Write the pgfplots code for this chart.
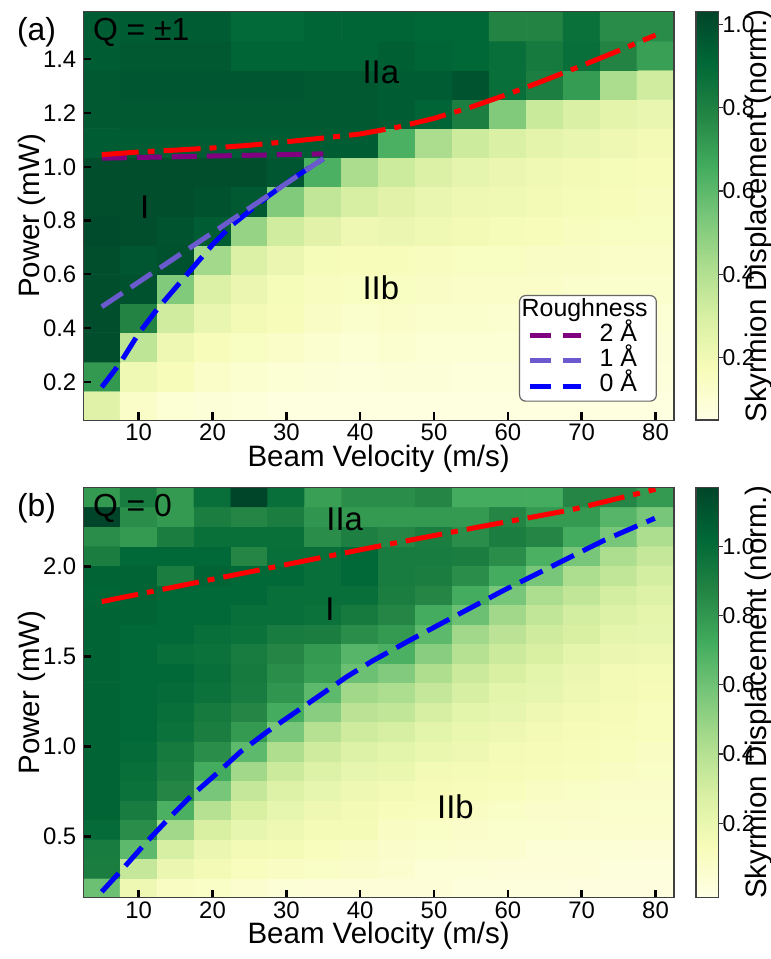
\documentclass[border=0pt]{standalone}
\usepackage{pgfplots}
\pgfplotsset{compat=1.18}
\usepackage{fontspec}
\setmainfont{Liberation Sans}

\definecolor{rline}{RGB}{255,0,0}
\definecolor{bline}{RGB}{0,0,255}
\definecolor{sline}{RGB}{106,90,205}
\definecolor{pline}{RGB}{128,0,128}

\tikzset{
  region/.style={font=\fontsize{16.5}{18}\selectfont},
  dashdot/.style={rline, line width=2.5bp, dash pattern=on 18.5bp off 4.5bp on 3.5bp off 4.5bp},
  dashed0/.style={line width=2.5bp, dash pattern=on 12.5bp off 5bp},
}

\pgfplotsset{
  colormap={ylgn}{rgb255=(255,255,229) rgb255=(247,252,185) rgb255=(217,240,163)
    rgb255=(173,221,142) rgb255=(120,198,121) rgb255=(65,171,93) rgb255=(35,132,67)
    rgb255=(0,104,55) rgb255=(0,69,41)},
  rleg/.style={legend image code/.code={\path[draw=none] (0bp,0bp) -- (34.5bp,0bp);
    \draw[##1, dash pattern=on 10.5bp off 5.8bp] (0bp,0bp) -- (25.5bp,0bp);}},
  heat/.style={
    scale only axis, width=295.35bp, axis on top,
    anchor=north west,
    xmin=2.5, xmax=82.5,
    xtick={10,20,30,40,50,60,70,80},
    tick align=inside, xtick pos=bottom, ytick pos=left,
    major tick length=4bp,
    major tick style={black, line width=1.2bp},
    axis line style={black!75, line width=0.7bp},
    tick label style={font=\fontsize{12}{14}\selectfont},
    /pgf/number format/assume math mode=true,
    yticklabel style={/pgf/number format/fixed, /pgf/number format/fixed zerofill,
      /pgf/number format/precision=1},
    xticklabel style={anchor=base, yshift=-10.3bp},
    label style={font=\fontsize{14.8}{17}\selectfont},
    xlabel={Beam Velocity (m/s)},
    ylabel={Power (mW)},
    xlabel style={at={(axis description cs:0.5,0)}, anchor=base, yshift=-23bp},
    ylabel style={at={(axis description cs:0,0.5)}, anchor=base, yshift=22bp},
    colormap name=ylgn,
    colorbar,
    colorbar style={
      scale only axis, width=11.35bp,
      at={(parent axis.north east)}, anchor=north west, xshift=2.5bp,
      ytick={0.2,0.4,0.6,0.8,1.0},
      ytick pos=right, tick align=outside,
      major tick length=2bp,
      major tick style={black!80, line width=0.6bp},
      axis line style={black!75, line width=0.7bp},
      /pgf/number format/assume math mode=true,
      yticklabel style={font=\fontsize{11.5}{13}\selectfont, xshift=-3.5bp,
        /pgf/number format/fixed, /pgf/number format/fixed zerofill,
        /pgf/number format/precision=1},
      ylabel={Skyrmion Displacement (norm.)},
      ylabel style={font=\fontsize{14.8}{17}\selectfont,
        at={(axis description cs:1,0.5)}, anchor=base, yshift=-24bp},
    },
  },
}

\begin{document}
\begin{tikzpicture}
\path[use as bounding box] (0,0) rectangle (385.5bp,-479.5bp);

% (a) Q = +-1
\begin{axis}[heat, at={(41.65bp,-5.85bp)}, height=204.25bp,
  ymin=0.057, ymax=1.577,
  ytick={0.2,0.4,0.6,0.8,1.0,1.2,1.4},
  point meta min=0.05, point meta max=1.03,
  legend cell align=left,
  legend style={at={(0.7376,0.3065)}, anchor=north west, draw=black!60,
    line width=0.6bp, fill=white, rounded corners=3bp,
    font=\fontsize{12.5}{14}\selectfont, inner xsep=4bp, inner ysep=2.5bp,
    row sep=2.5bp, nodes={inner sep=0.3bp, text height=0.75em, text depth=0.2em}},
]
\addplot[matrix plot*, mesh/cols=16, point meta=explicit, forget plot] coordinates {
(5,.111)[.27] (10,.111)[.13] (15,.111)[.10] (20,.111)[.09] (25,.111)[.08] (30,.111)[.07] (35,.111)[.07] (40,.111)[.07] (45,.111)[.07] (50,.111)[.07] (55,.111)[.07] (60,.111)[.07] (65,.111)[.07] (70,.111)[.07] (75,.111)[.07] (80,.111)[.07]
(5,.220)[.72] (10,.220)[.20] (15,.220)[.17] (20,.220)[.13] (25,.220)[.11] (30,.220)[.10] (35,.220)[.09] (40,.220)[.08] (45,.220)[.09] (50,.220)[.09] (55,.220)[.08] (60,.220)[.08] (65,.220)[.08] (70,.220)[.08] (75,.220)[.08] (80,.220)[.08]
(5,.328)[1.00] (10,.328)[.37] (15,.328)[.21] (20,.328)[.17] (25,.328)[.15] (30,.328)[.13] (35,.328)[.11] (40,.328)[.10] (45,.328)[.11] (50,.328)[.10] (55,.328)[.10] (60,.328)[.10] (65,.328)[.09] (70,.328)[.09] (75,.328)[.09] (80,.328)[.09]
(5,.437)[1.00] (10,.437)[.79] (15,.437)[.32] (20,.437)[.23] (25,.437)[.19] (30,.437)[.17] (35,.437)[.14] (40,.437)[.12] (45,.437)[.13] (50,.437)[.12] (55,.437)[.12] (60,.437)[.11] (65,.437)[.11] (70,.437)[.11] (75,.437)[.10] (80,.437)[.10]
(5,.546)[1.00] (10,.546)[.99] (15,.546)[.52] (20,.546)[.28] (25,.546)[.22] (30,.546)[.18] (35,.546)[.16] (40,.546)[.15] (45,.546)[.15] (50,.546)[.14] (55,.546)[.13] (60,.546)[.13] (65,.546)[.13] (70,.546)[.12] (75,.546)[.12] (80,.546)[.12]
(5,.654)[1.00] (10,.654)[.97] (15,.654)[.99] (20,.654)[.44] (25,.654)[.28] (30,.654)[.22] (35,.654)[.18] (40,.654)[.17] (45,.654)[.17] (50,.654)[.16] (55,.654)[.15] (60,.654)[.15] (65,.654)[.14] (70,.654)[.14] (75,.654)[.13] (80,.654)[.13]
(5,.763)[1.01] (10,.763)[1.00] (15,.763)[.98] (20,.763)[.95] (25,.763)[.47] (30,.763)[.32] (35,.763)[.26] (40,.763)[.21] (45,.763)[.22] (50,.763)[.20] (55,.763)[.19] (60,.763)[.18] (65,.763)[.17] (70,.763)[.16] (75,.763)[.15] (80,.763)[.15]
(5,.871)[1.00] (10,.871)[1.00] (15,.871)[1.00] (20,.871)[.99] (25,.871)[.96] (30,.871)[.52] (35,.871)[.36] (40,.871)[.30] (45,.871)[.26] (50,.871)[.23] (55,.871)[.21] (60,.871)[.20] (65,.871)[.19] (70,.871)[.18] (75,.871)[.17] (80,.871)[.16]
(5,.980)[1.00] (10,.980)[1.00] (15,.980)[1.00] (20,.980)[1.00] (25,.980)[1.00] (30,.980)[.97] (35,.980)[.64] (40,.980)[.42] (45,.980)[.33] (50,.980)[.28] (55,.980)[.24] (60,.980)[.22] (65,.980)[.20] (70,.980)[.19] (75,.980)[.18] (80,.980)[.17]
(5,1.089)[.95] (10,1.089)[.95] (15,1.089)[.95] (20,1.089)[.95] (25,1.089)[.95] (30,1.089)[.95] (35,1.089)[.95] (40,1.089)[.95] (45,1.089)[.64] (50,1.089)[.42] (55,1.089)[.33] (60,1.089)[.29] (65,1.089)[.25] (70,1.089)[.23] (75,1.089)[.21] (80,1.089)[.19]
(5,1.197)[.96] (10,1.197)[.96] (15,1.197)[.96] (20,1.197)[.96] (25,1.197)[.96] (30,1.197)[.96] (35,1.197)[.96] (40,1.197)[.96] (45,1.197)[.95] (50,1.197)[.92] (55,1.197)[.81] (60,1.197)[.52] (65,1.197)[.34] (70,1.197)[.29] (75,1.197)[.25] (80,1.197)[.23]
(5,1.306)[.96] (10,1.306)[.97] (15,1.306)[.97] (20,1.306)[.97] (25,1.306)[.97] (30,1.306)[.97] (35,1.306)[.96] (40,1.306)[.96] (45,1.306)[.95] (50,1.306)[.95] (55,1.306)[.98] (60,1.306)[.88] (65,1.306)[.81] (70,1.306)[.71] (75,1.306)[.42] (80,1.306)[.32]
(5,1.414)[.95] (10,1.414)[.96] (15,1.414)[.96] (20,1.414)[.96] (25,1.414)[.92] (30,1.414)[.92] (35,1.414)[.92] (40,1.414)[.92] (45,1.414)[.94] (50,1.414)[.92] (55,1.414)[.91] (60,1.414)[.88] (65,1.414)[.83] (70,1.414)[.88] (75,1.414)[.79] (80,1.414)[.70]
(5,1.523)[.95] (10,1.523)[.95] (15,1.523)[.95] (20,1.523)[.95] (25,1.523)[.90] (30,1.523)[.90] (35,1.523)[.92] (40,1.523)[.92] (45,1.523)[.92] (50,1.523)[.91] (55,1.523)[.91] (60,1.523)[.79] (65,1.523)[.79] (70,1.523)[.87] (75,1.523)[.76] (80,1.523)[.76]
};
% boundaries
\addplot[bline, dashed0, forget plot] coordinates {
  (5,0.18) (7.5,0.27) (10,0.38) (12.5,0.47) (15,0.55) (17.5,0.63) (20,0.71)
  (22.5,0.78) (25,0.835) (27.5,0.89) (30,0.94) (32.5,0.985) (35,1.03)};
\addplot[sline, dashed0, forget plot] coordinates {(5,0.479) (35,1.03)};
\addplot[pline, dashed0, forget plot] coordinates {(5,1.032) (35,1.048)};
\addplot[dashdot, forget plot] coordinates {
  (5,1.045) (10,1.055) (15,1.062) (20,1.07) (25,1.08) (30,1.093) (35,1.107)
  (40,1.122) (45,1.147) (50,1.18) (55,1.222) (60,1.27) (65,1.322) (70,1.376)
  (75,1.432) (80,1.49)};
\addlegendimage{empty legend}
\addlegendentry{\hspace*{-39bp}Roughness}
\addlegendimage{pline, line width=2.5bp, rleg}
\addlegendentry{2 Å}
\addlegendimage{sline, line width=2.5bp, rleg}
\addlegendentry{1 Å}
\addlegendimage{bline, line width=2.5bp, rleg}
\addlegendentry{0 Å}
\node[region] at (axis cs:42.8,1.351) {IIa};
\node[region] at (axis cs:10.8,0.848) {I};
\node[region] at (axis cs:42.8,0.549) {IIb};
\end{axis}

% (b) Q = 0
\begin{axis}[heat, at={(41.65bp,-243.65bp)}, height=205.2bp,
  ymin=0.161, ymax=2.441,
  ytick={0.5,1.0,1.5,2.0},
  point meta min=-0.015, point meta max=1.17,
]
\addplot[matrix plot*, mesh/cols=16, point meta=explicit] coordinates {
(5,.215)[.61] (10,.215)[.18] (15,.215)[.10] (20,.215)[.09] (25,.215)[.06] (30,.215)[.04] (35,.215)[.03] (40,.215)[.03] (45,.215)[.03] (50,.215)[.03] (55,.215)[.02] (60,.215)[.02] (65,.215)[.02] (70,.215)[.01] (75,.215)[.01] (80,.215)[.01]
(5,.324)[.91] (10,.324)[.35] (15,.324)[.19] (20,.324)[.16] (25,.324)[.12] (30,.324)[.10] (35,.324)[.09] (40,.324)[.08] (45,.324)[.06] (50,.324)[.04] (55,.324)[.04] (60,.324)[.03] (65,.324)[.03] (70,.324)[.03] (75,.324)[.02] (80,.324)[.02]
(5,.432)[.92] (10,.432)[.65] (15,.432)[.29] (20,.432)[.19] (25,.432)[.16] (30,.432)[.15] (35,.432)[.12] (40,.432)[.10] (45,.432)[.08] (50,.432)[.07] (55,.432)[.06] (60,.432)[.06] (65,.432)[.04] (70,.432)[.04] (75,.432)[.04] (80,.432)[.03]
(5,.541)[1.00] (10,.541)[.84] (15,.541)[.46] (20,.541)[.28] (25,.541)[.21] (30,.541)[.18] (35,.541)[.15] (40,.541)[.15] (45,.541)[.10] (50,.541)[.09] (55,.541)[.08] (60,.541)[.07] (65,.541)[.07] (70,.541)[.06] (75,.541)[.06] (80,.541)[.06]
(5,.649)[1.04] (10,.649)[.92] (15,.649)[.70] (20,.649)[.40] (25,.649)[.28] (30,.649)[.21] (35,.649)[.18] (40,.649)[.16] (45,.649)[.13] (50,.649)[.12] (55,.649)[.10] (60,.649)[.09] (65,.649)[.08] (70,.649)[.08] (75,.649)[.07] (80,.649)[.07]
(5,.758)[1.04] (10,.758)[.97] (15,.758)[.87] (20,.758)[.58] (25,.758)[.35] (30,.758)[.26] (35,.758)[.21] (40,.758)[.18] (45,.758)[.16] (50,.758)[.14] (55,.758)[.13] (60,.758)[.12] (65,.758)[.10] (70,.758)[.09] (75,.758)[.08] (80,.758)[.08]
(5,.867)[1.04] (10,.867)[.99] (15,.867)[.91] (20,.867)[.72] (25,.867)[.46] (30,.867)[.33] (35,.867)[.26] (40,.867)[.21] (45,.867)[.20] (50,.867)[.16] (55,.867)[.15] (60,.867)[.14] (65,.867)[.13] (70,.867)[.12] (75,.867)[.10] (80,.867)[.09]
(5,.975)[1.04] (10,.975)[1.00] (15,.975)[.93] (20,.975)[.84] (25,.975)[.65] (30,.975)[.42] (35,.975)[.32] (40,.975)[.26] (45,.975)[.23] (50,.975)[.20] (55,.975)[.18] (60,.975)[.15] (65,.975)[.14] (70,.975)[.13] (75,.975)[.12] (80,.975)[.10]
(5,1.084)[1.04] (10,1.084)[1.02] (15,1.084)[.97] (20,1.084)[.91] (25,1.084)[.79] (30,1.084)[.58] (35,1.084)[.40] (40,1.084)[.32] (45,1.084)[.29] (50,1.084)[.23] (55,1.084)[.20] (60,1.084)[.18] (65,1.084)[.16] (70,1.084)[.14] (75,1.084)[.13] (80,1.084)[.12]
(5,1.192)[1.04] (10,1.192)[1.02] (15,1.192)[.99] (20,1.192)[.93] (25,1.192)[.87] (30,1.192)[.72] (35,1.192)[.53] (40,1.192)[.38] (45,1.192)[.36] (50,1.192)[.29] (55,1.192)[.23] (60,1.192)[.21] (65,1.192)[.18] (70,1.192)[.16] (75,1.192)[.14] (80,1.192)[.12]
(5,1.301)[1.04] (10,1.301)[1.02] (15,1.301)[1.00] (20,1.301)[.97] (25,1.301)[.92] (30,1.301)[.81] (35,1.301)[.65] (40,1.301)[.46] (45,1.301)[.43] (50,1.301)[.35] (55,1.301)[.29] (60,1.301)[.23] (65,1.301)[.21] (70,1.301)[.18] (75,1.301)[.16] (80,1.301)[.14]
(5,1.410)[1.04] (10,1.410)[1.02] (15,1.410)[1.02] (20,1.410)[.99] (25,1.410)[.93] (30,1.410)[.84] (35,1.410)[.77] (40,1.410)[.61] (45,1.410)[.55] (50,1.410)[.42] (55,1.410)[.33] (60,1.410)[.28] (65,1.410)[.23] (70,1.410)[.19] (75,1.410)[.16] (80,1.410)[.15]
(5,1.518)[1.04] (10,1.518)[1.02] (15,1.518)[.99] (20,1.518)[.97] (25,1.518)[.92] (30,1.518)[.87] (35,1.518)[.79] (40,1.518)[.67] (45,1.518)[.70] (50,1.518)[.53] (55,1.518)[.40] (60,1.518)[.33] (65,1.518)[.28] (70,1.518)[.22] (75,1.518)[.19] (80,1.518)[.18]
(5,1.627)[1.04] (10,1.627)[1.02] (15,1.627)[1.02] (20,1.627)[.99] (25,1.627)[.97] (30,1.627)[.92] (35,1.627)[.91] (40,1.627)[.84] (45,1.627)[.79] (50,1.627)[.65] (55,1.627)[.46] (60,1.627)[.38] (65,1.627)[.32] (70,1.627)[.28] (75,1.627)[.22] (80,1.627)[.21]
(5,1.735)[1.04] (10,1.735)[1.04] (15,1.735)[1.02] (20,1.735)[1.02] (25,1.735)[.99] (30,1.735)[.99] (35,1.735)[.97] (40,1.735)[.93] (45,1.735)[.87] (50,1.735)[.72] (55,1.735)[.61] (60,1.735)[.46] (65,1.735)[.36] (70,1.735)[.30] (75,1.735)[.26] (80,1.735)[.22]
(5,1.844)[1.03] (10,1.844)[1.04] (15,1.844)[1.02] (20,1.844)[1.02] (25,1.844)[1.02] (30,1.844)[.99] (35,1.844)[.99] (40,1.844)[.99] (45,1.844)[.91] (50,1.844)[.87] (55,1.844)[.72] (60,1.844)[.58] (65,1.844)[.43] (70,1.844)[.36] (75,1.844)[.30] (80,1.844)[.26]
(5,1.953)[1.04] (10,1.953)[1.04] (15,1.953)[.91] (20,1.953)[1.04] (25,1.953)[1.02] (30,1.953)[1.02] (35,1.953)[.99] (40,1.953)[1.02] (45,1.953)[.92] (50,1.953)[.91] (55,1.953)[.84] (60,1.953)[.72] (65,1.953)[.58] (70,1.953)[.43] (75,1.953)[.36] (80,1.953)[.30]
(5,2.061)[.91] (10,2.061)[1.02] (15,2.061)[1.02] (20,2.061)[1.02] (25,2.061)[.87] (30,2.061)[.99] (35,2.061)[.99] (40,2.061)[1.02] (45,2.061)[.92] (50,2.061)[.92] (55,2.061)[.91] (60,2.061)[.84] (65,2.061)[.70] (70,2.061)[.58] (75,2.061)[.43] (80,2.061)[.35]
(5,2.170)[.84] (10,2.170)[.79] (15,2.170)[.91] (20,2.170)[.98] (25,2.170)[.98] (30,2.170)[.98] (35,2.170)[.84] (40,2.170)[.90] (45,2.170)[.87] (50,2.170)[.91] (55,2.170)[.84] (60,2.170)[.91] (65,2.170)[.87] (70,2.170)[.72] (75,2.170)[.58] (80,2.170)[.43]
(5,2.278)[1.17] (10,2.278)[.84] (15,2.278)[.79] (20,2.278)[.91] (25,2.278)[.87] (30,2.278)[.91] (35,2.278)[.81] (40,2.278)[.79] (45,2.278)[.79] (50,2.278)[.79] (55,2.278)[.79] (60,2.278)[.87] (65,2.278)[.79] (70,2.278)[.79] (75,2.278)[.67] (80,2.278)[.58]
(5,2.387)[.79] (10,2.387)[.92] (15,2.387)[.79] (20,2.387)[.99] (25,2.387)[1.17] (30,2.387)[.99] (35,2.387)[.77] (40,2.387)[.84] (45,2.387)[.84] (50,2.387)[.87] (55,2.387)[.72] (60,2.387)[.72] (65,2.387)[.72] (70,2.387)[.87] (75,2.387)[.87] (80,2.387)[.79]
};
\addplot[bline, dashed0] coordinates {
  (5,0.194) (7.9,0.324) (11.1,0.472) (14.3,0.611) (17,0.722) (20.6,0.852)
  (23.8,0.972) (27.4,1.083) (31,1.185) (34.6,1.287) (38.2,1.389) (41.6,1.475)
  (46.8,1.593) (52.7,1.722) (59.5,1.87) (66.3,2.009) (73.1,2.148) (79.9,2.269)};
\addplot[dashdot] coordinates {
  (5,1.806) (20,1.93) (42,2.11) (56,2.22) (68.5,2.315) (80,2.43)};
\node[region] at (axis cs:37.9,2.265) {IIa};
\node[region] at (axis cs:35.9,1.765) {I};
\node[region] at (axis cs:52.9,0.667) {IIb};
\end{axis}

\node[anchor=base west, font=\fontsize{16}{18}\selectfont] at (5bp,-20bp) {(a)};
\node[anchor=base west, font=\fontsize{16}{18}\selectfont, inner sep=0pt] at (46.35bp,-20bp) {Q = ±1};
\node[anchor=base west, font=\fontsize{16}{18}\selectfont] at (5bp,-258.35bp) {(b)};
\node[anchor=base west, font=\fontsize{16}{18}\selectfont, inner sep=0pt] at (46.35bp,-258.35bp) {Q = 0};
\end{tikzpicture}
\end{document}
